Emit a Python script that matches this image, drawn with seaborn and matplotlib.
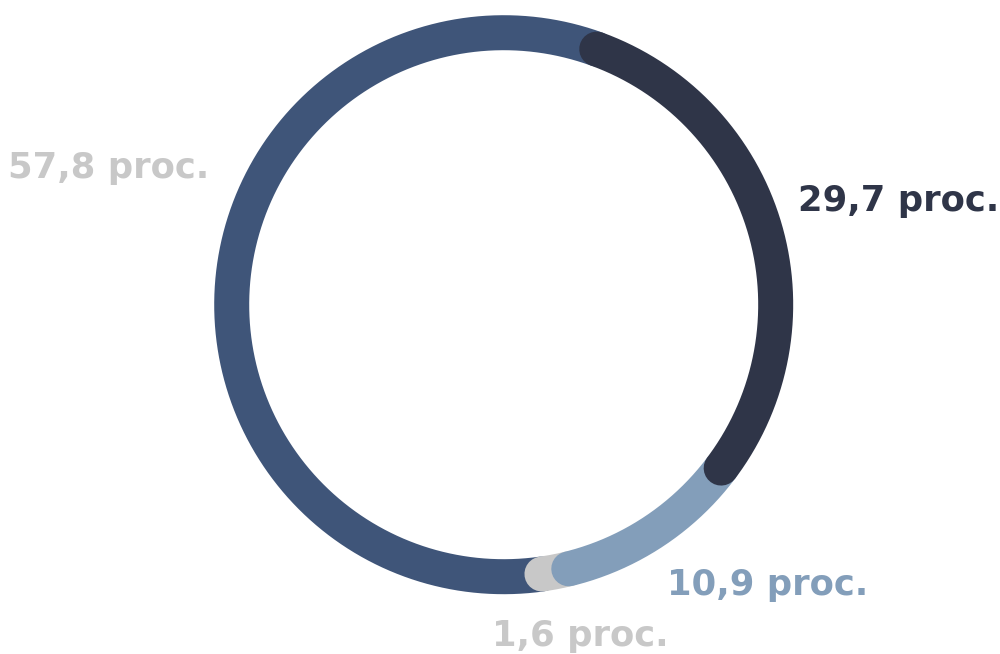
import numpy as np
import matplotlib
matplotlib.use("Agg")
import matplotlib.pyplot as plt
import seaborn as sns

# ---- data ----
categories = ["A", "B", "C", "D"]
values = [29.7, 10.9, 1.6, 57.8]          # clockwise from start
labels = ["29,7 proc.", "10,9 proc.", "1,6 proc.", "57,8 proc."]
colors = ["#2f3548", "#839eba", "#c8c8c8", "#3f5579"]
label_colors = ["#2f3548", "#839eba", "#c8c8c8", "#c8c8c8"]

sns.set_theme(style="white")
plt.rcParams["font.family"] = ["DejaVu Sans"]

fig = plt.figure(figsize=(10, 6.54), dpi=100)
ax = fig.add_axes([0, 0, 1, 1])
ax.set_xlim(0, 1000)
ax.set_ylim(654, 0)
ax.set_aspect("equal")
ax.axis("off")

cx, cy, r = 503.7, 304.7, 272.0
ring_w_pt = 35 * 72 / 100
start = 20.0  # degrees clockwise from top

total = sum(values)
bounds = np.concatenate([[0], np.cumsum(values)]) / total * 360 + start

# draw order: last slice first so each earlier one's caps sit on top
for i in reversed(range(len(values))):
    th = np.radians(np.linspace(bounds[i], bounds[i + 1], 400))
    x = cx + r * np.sin(th)
    y = cy - r * np.cos(th)
    ax.plot(x, y, color=colors[i], lw=ring_w_pt, solid_capstyle="round")

# labels (left x, baseline y) layout
label_pos = [(798, 211), (667, 595), (492, 646), (8, 178)]
for (lx, ly), txt, c in zip(label_pos, labels, label_colors):
    ax.text(lx, ly, txt, color=c, fontsize=25.5, fontweight="bold",
            ha="left", va="baseline")

fig.savefig("out.png", dpi=100)
